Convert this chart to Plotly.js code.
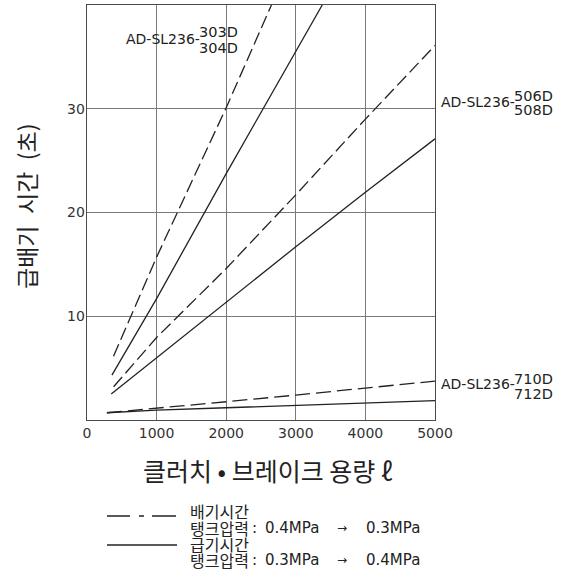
<!DOCTYPE html>
<html>
<head>
<meta charset="utf-8">
<script src="https://cdn.plot.ly/plotly-3.0.1.min.js"></script>
<style>html,body{margin:0;padding:0;background:#fff;}</style>
</head>
<body>
<div id="chart" style="width:562px;height:574px;"></div>
<script>
// ---- data (capacity ℓ vs time s) ----
const xTickVals = [0, 1000, 2000, 3000, 4000, 5000];
const yTickVals = [10, 20, 30];

// AD-SL236-303D/304D
const exh303X = [381, 1000, 2000, 2650];
const exh303Y = [6.15, 15.7, 30.1, 40];
const sup303X = [358, 1000, 2000, 3000, 3380];
const sup303Y = [4.33, 11.7, 23.75, 35.5, 40];

// AD-SL236-506D/508D
const exh506X = [382, 1000, 2000, 3000, 4000, 5000];
const exh506Y = [3.2, 7.95, 14.6, 21.7, 29.0, 36.1];
const sup506X = [348, 1000, 2000, 3000, 4000, 5000];
const sup506Y = [2.5, 6.0, 11.35, 16.7, 21.95, 27.1];

// AD-SL236-710D/712D
const exh710X = [286, 1000, 2000, 3000, 4000, 5000];
const exh710Y = [0.7, 1.12, 1.76, 2.4, 3.1, 3.75];
const sup710X = [286, 1000, 2000, 3000, 4000, 5000];
const sup710Y = [0.7, 0.96, 1.18, 1.41, 1.63, 1.86];

const modelPrefix = 'AD-SL236-';
const modelLabels = [['303D', '304D'], ['506D', '508D'], ['710D', '712D']];
const xTitle = '클러치 • 브레이크 용량 ℓ';
const yTitle = '급배기\u2002시간\u2002(초)';
const legendExhaust = ['배기시간', '0.4MPa', '0.3MPa'];
const legendSupply = ['급기시간', '0.3MPa', '0.4MPa'];
const tankText = '탱크압력';

// ---- styling ----
const LINE = '#222';
const DASH = '13px,5px';
const KR = "'Noto Sans CJK KR', 'Noto Sans', sans-serif";
const LAT = "'DejaVu Sans', sans-serif";

function tr(x, y, dash) {
  return {x: x, y: y, type: 'scatter', mode: 'lines', hoverinfo: 'skip',
    line: {color: LINE, width: 1.3, dash: dash || 'solid'}};
}
const data = [
  tr(exh303X, exh303Y, DASH), tr(sup303X, sup303Y),
  tr(exh506X, exh506Y, DASH), tr(sup506X, sup506Y),
  tr(exh710X, exh710Y, '15px,6px'), tr(sup710X, sup710Y)
];

// pixel -> paper helpers (plot area 87..435 x, 5..420 y)
const L = 87, R = 435, T = 5, B = 420;
const px = v => (v - L) / (R - L);
const py = v => (B - v) / (B - T);

function ann(text, x, y, opts) {
  return Object.assign({text: text, xref: 'paper', yref: 'paper', x: px(x), y: py(y),
    showarrow: false, xanchor: 'left', yanchor: 'middle', borderpad: 0,
    font: {family: LAT, size: 14, color: '#222'}}, opts || {});
}

const annotations = [];
// model labels
const labelPos = [[198, 38.7, 32, 47.5], [513, 102, 96, 110.5], [513, 384, 379, 393.5]];
labelPos.forEach((p, i) => {
  annotations.push(ann(modelPrefix, p[0] + 3, p[1], {xanchor: 'right'}));
  annotations.push(ann(modelLabels[i][0], p[0] - 0.5, p[2], {font: {family: LAT, size: 14.5, color: '#222'}}));
  annotations.push(ann(modelLabels[i][1], p[0] - 0.5, p[3], {font: {family: LAT, size: 14.5, color: '#222'}}));
});
// axis titles
annotations.push(ann(xTitle, 268, 470, {xanchor: 'center', font: {family: KR, size: 25, color: '#222'}}));
annotations.push(ann(yTitle, 26, 206, {xanchor: 'center', textangle: -90, font: {family: KR, size: 23, color: '#222'}}));
// legend texts
const krF = {family: KR, size: 16, color: '#222'};
const laF = {family: LAT, size: 15, color: '#222'};
[[legendExhaust, 511, 527.5], [legendSupply, 544, 560]].forEach(g => {
  const t = g[0];
  annotations.push(ann(t[0], 189, g[1], {font: krF}));
  annotations.push(ann(tankText, 189, g[2], {font: krF}));
  annotations.push(ann(':', 254, g[2], {xanchor: 'center', font: laF}));
  annotations.push(ann(t[1], 264, g[2], {font: laF}));
  annotations.push(ann('→', 342, g[2], {xanchor: 'center', font: {family: LAT, size: 12, color: '#222'}}));
  annotations.push(ann(t[2], 365, g[2], {font: laF}));
});

const shapes = [
  {type: 'line', xref: 'paper', yref: 'paper', x0: px(107), x1: px(177), y0: py(516), y1: py(516),
   line: {color: LINE, width: 1.3, dash: '23px,9px,5px,8px,24px'}},
  {type: 'line', xref: 'paper', yref: 'paper', x0: px(107), x1: px(177), y0: py(545), y1: py(545),
   line: {color: LINE, width: 1.3}}
];

const axisCommon = {
  showgrid: true, gridcolor: '#7a7a7a', gridwidth: 1.3,
  showline: true, mirror: true, linecolor: '#4a4a4a', linewidth: 1.3,
  zeroline: false, ticks: '', fixedrange: true,
  tickfont: {family: LAT, size: 14, color: '#333'}
};

const layout = {
  width: 562, height: 574,
  margin: {l: L, r: 562 - R, t: T, b: 574 - B, pad: 0},
  paper_bgcolor: '#fff', plot_bgcolor: '#fff',
  showlegend: false,
  xaxis: Object.assign({}, axisCommon, {range: [0, 5000], tickmode: 'array', tickvals: xTickVals}),
  yaxis: Object.assign({}, axisCommon, {range: [0, 40], tickmode: 'array', tickvals: yTickVals, ticklabelstandoff: -2}),
  annotations: annotations,
  shapes: shapes
};

Plotly.newPlot('chart', data, layout, {staticPlot: true, displayModeBar: false});
</script>
</body>
</html>
